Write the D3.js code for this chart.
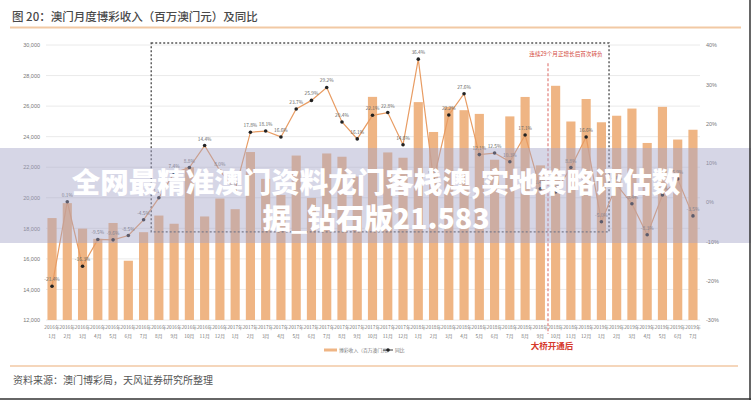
<!DOCTYPE html>
<html><head><meta charset="utf-8">
<script src="https://cdn.jsdelivr.net/npm/d3@7"></script>
<style>
body{margin:0;background:#fff;}
svg{display:block;font-family:"Noto Sans CJK SC","Noto Sans",sans-serif;}
</style></head>
<body>
<svg id="c" width="751" height="400"></svg>
<script>
const categories = [
 "2016年1月","2016年2月","2016年3月","2016年4月","2016年5月","2016年6月","2016年7月","2016年8月","2016年9月","2016年10月","2016年11月","2016年12月",
 "2017年1月","2017年2月","2017年3月","2017年4月","2017年5月","2017年6月","2017年7月","2017年8月","2017年9月","2017年10月","2017年11月","2017年12月",
 "2018年1月","2018年2月","2018年3月","2018年4月","2018年5月","2018年6月","2018年7月","2018年8月","2018年9月","2018年10月","2018年11月","2018年12月",
 "2019年1月","2019年2月","2019年3月","2019年4月","2019年5月","2019年6月","2019年7月"];
const revenue = [
 18672,19650,17981,17313,18350,15879,17748,18836,18300,21999,18777,19950,
 19254,22994,21238,20188,22764,19990,22900,22686,21390,26605,22968,22621,
 26262,24307,25951,25733,25491,22490,25327,26600,22121,27330,24993,26466,
 24942,25370,25840,23588,25952,23812,24453];
const yoy = [
 -21.4,0.1,-16.3,-9.5,-9.6,-8.5,-4.5,1.1,7.4,8.8,14.4,8.0,
 3.1,17.8,18.1,16.6,23.7,25.9,29.2,20.4,16.1,22.1,22.8,14.6,
 36.4,5.7,22.2,27.6,12.1,12.5,10.3,17.1,3.4,2.6,8.8,16.6,
 -5.0,4.4,-0.4,-8.3,1.8,5.9,-3.5];
const leftTicks = [12000,14000,16000,18000,20000,22000,24000,26000,28000,30000];
const rightTicks = [-30,-20,-10,0,10,20,30,40];
const title = "图 20：澳门月度博彩收入（百万澳门元）及同比";
const source = "资料来源：澳门博彩局，天风证券研究所整理";
const legendNames = ["博彩收入（百万澳门元）","同比"];
const boxRange = ["2016年8月","2019年1月"];
const bridgeBetween = ["2018年9月","2018年10月"];
const boxBottomValue = 17770;
const redNote = "连续29个月正增长后首次转负";
const bridgeNote = "大桥开通后";
const bannerLines = ["全网最精准澳门资料龙门客栈澳,实地策略评估数","据_钻石版21.583"];

const svg = d3.select("#c");
const x = d3.scaleBand().domain(categories).range([44.4,700.6]).paddingInner(0.4).paddingOuter(0.2);
const yL = d3.scaleLinear().domain([12000,30000]).range([320,45]);
const yR = d3.scaleLinear().domain([-30,40]).range([320,45]);
const cx = c => x(c) + x.bandwidth()/2;

// title
svg.append("text").attr("x",12).attr("y",21).attr("font-size",11.5).attr("font-weight",500)
  .attr("fill","#4a4a4a").text(title);
svg.append("line").attr("x1",10).attr("x2",741).attr("y1",27.5).attr("y2",27.5)
  .attr("stroke","#f2c9a4").attr("stroke-width",2);

// gridlines
svg.append("g").selectAll("line").data(leftTicks).join("line")
  .attr("x1",46).attr("x2",700).attr("y1",d=>yL(d)).attr("y2",d=>yL(d))
  .attr("stroke","#e4e4e4").attr("stroke-width",0.8);

// left axis
const axL = svg.append("g").attr("transform","translate(46,0)")
  .call(d3.axisLeft(yL).tickValues(leftTicks).tickFormat(d3.format(",")).tickSize(0).tickPadding(6));
axL.select(".domain").remove();
axL.selectAll("text").attr("font-size",5.5).attr("fill","#777");

// right axis
const axR = svg.append("g").attr("transform","translate(700,0)")
  .call(d3.axisRight(yR).tickValues(rightTicks).tickFormat(d=>d+"%").tickSize(0).tickPadding(6));
axR.select(".domain").remove();
axR.selectAll("text").attr("font-size",5.5).attr("fill","#777");

// bars
svg.append("g").selectAll("rect").data(revenue).join("rect")
  .attr("x",(d,i)=>x(categories[i])).attr("width",x.bandwidth())
  .attr("y",d=>yL(d)).attr("height",d=>yL(12000)-yL(d)).attr("fill","#efb584");

// x labels
const xl = svg.append("g");
categories.forEach(c=>{
  const [yr,mo] = c.split("年");
  const t = xl.append("text").attr("x",cx(c)).attr("text-anchor","middle").attr("font-size",4.8).attr("fill","#777");
  t.append("tspan").attr("x",cx(c)).attr("y",328.5).text(yr+"年");
  t.append("tspan").attr("x",cx(c)).attr("y",338).text(mo);
});

// dashed box
const bx0 = x(boxRange[0]) - x.step()*x.paddingInner()/2;
const bx1 = x(boxRange[1]) + x.bandwidth() + x.step()*x.paddingInner()/2;
svg.append("rect").attr("x",bx0).attr("y",yL(30000)-2).attr("width",bx1-bx0)
  .attr("height",yL(boxBottomValue)-yL(30000)+2).attr("fill","none")
  .attr("stroke","#555").attr("stroke-width",1.4).attr("stroke-dasharray","2,2");

// red bridge line
const rx = (x(bridgeBetween[0]) + x.bandwidth() + x(bridgeBetween[1]))/2;
svg.append("line").attr("x1",rx).attr("x2",rx).attr("y1",yL(28800)).attr("y2",334)
  .attr("stroke","#e48a86").attr("stroke-width",1.3).attr("stroke-dasharray","3,2");
svg.append("text").attr("x",rx+18).attr("y",56).attr("text-anchor","middle").attr("font-size",5.6)
  .attr("fill","#d34a40").text(redNote);
svg.append("text").attr("x",rx+4).attr("y",349).attr("text-anchor","middle").attr("font-size",8.5)
  .attr("font-weight",700).attr("fill","#d63a2c").text(bridgeNote);

// yoy line
const line = d3.line().x((d,i)=>cx(categories[i])).y(d=>yR(d));
svg.append("path").datum(yoy).attr("d",line).attr("fill","none").attr("stroke","#e89c63").attr("stroke-width",1.2);
svg.append("g").selectAll("circle").data(yoy).join("circle")
  .attr("cx",(d,i)=>cx(categories[i])).attr("cy",d=>yR(d)).attr("r",1.8).attr("fill","#222");
svg.append("g").selectAll("text").data(yoy).join("text")
  .attr("x",(d,i)=>cx(categories[i])).attr("y",d=>yR(d)-5).attr("text-anchor","middle")
  .attr("font-size",4.8).attr("fill","#666").text(d=>d.toFixed(1)+"%");

// legend
const lg = svg.append("g");
lg.append("line").attr("x1",324).attr("x2",337).attr("y1",350).attr("y2",350).attr("stroke","#efb584").attr("stroke-width",3);
lg.append("text").attr("x",339).attr("y",351.8).attr("font-size",4.8).attr("fill","#777").text(legendNames[0]);
lg.append("line").attr("x1",383).attr("x2",393).attr("y1",350).attr("y2",350).attr("stroke","#333").attr("stroke-width",1);
lg.append("circle").attr("cx",388).attr("cy",350).attr("r",1.8).attr("fill","#222");
lg.append("text").attr("x",395).attr("y",351.8).attr("font-size",4.8).attr("fill","#777").text(legendNames[1]);

// bottom
svg.append("line").attr("x1",10).attr("x2",738).attr("y1",366).attr("y2",366)
  .attr("stroke","#f2c9a4").attr("stroke-width",1.6);
svg.append("text").attr("x",13).attr("y",384).attr("font-size",10).attr("fill","#555").text(source);

// banner overlay
svg.append("rect").attr("x",0).attr("y",148).attr("width",751).attr("height",95)
  .attr("fill","rgba(165,165,200,0.45)");
bannerLines.forEach((t,i)=>{
  svg.append("text").attr("x",376).attr("y",180+i*36).attr("dominant-baseline","central")
    .attr("text-anchor","middle").attr("font-size",28.5).attr("font-weight",900)
    .attr("fill","#fff").text(t);
});

// frame edges
svg.append("line").attr("x1",0).attr("x2",751).attr("y1",399).attr("y2",399).attr("stroke","#333").attr("stroke-width",1.5);
svg.append("line").attr("x1",750).attr("x2",750).attr("y1",0).attr("y2",400).attr("stroke","#333").attr("stroke-width",1.5);
</script>
</body></html>
